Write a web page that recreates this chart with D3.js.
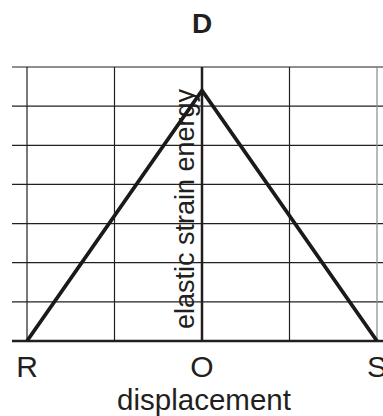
<!DOCTYPE html>
<html>
<head>
<meta charset="utf-8">
<script src="https://cdnjs.cloudflare.com/ajax/libs/d3/7.8.5/d3.min.js"></script>
<style>
  body { margin: 0; background: #fff; }
  text { font-family: "Liberation Sans", Arial, Helvetica, sans-serif; fill: #231f20; }
</style>
</head>
<body>
<div id="chart"></div>
<script>
// data
var points = ["R", "O", "S"];          // tick labels along displacement
var pointPos = [-1, 0, 1];             // displacement of each labelled point
var energy = [0, 6.4, 0];              // elastic strain energy at R, O, S
var gridX = [-1, -0.5, 0, 0.5, 1];     // vertical grid lines
var gridY = [1, 2, 3, 4, 5, 6, 7];     // horizontal grid lines
var title = "D";

var w = 383, h = 416;

var svg = d3.select("#chart").append("svg")
    .attr("width", w)
    .attr("height", h);

var x = d3.scaleLinear().domain([-1, 1]).range([27, 377]);
var y = d3.scaleLinear().domain([0, 7]).range([341, 67]);
var left = 12, right = 383;

// grid
svg.selectAll("line.hgrid")
    .data(gridY)
    .enter().append("line")
    .attr("x1", left).attr("x2", right)
    .attr("y1", function(d) { return y(d); })
    .attr("y2", function(d) { return y(d); })
    .attr("stroke", "#231f20")
    .attr("stroke-width", 1.2);

svg.selectAll("line.vgrid")
    .data(gridX)
    .enter().append("line")
    .attr("x1", function(d) { return x(d); })
    .attr("x2", function(d) { return x(d); })
    .attr("y1", y(0)).attr("y2", y(7))
    .attr("stroke", function(d) { return d == 1 ? "#8a8a8a" : "#231f20"; })
    .attr("stroke-width", 1.2);

// axes
svg.append("line")
    .attr("x1", x(0)).attr("x2", x(0))
    .attr("y1", y(0)).attr("y2", y(7))
    .attr("stroke", "#231f20")
    .attr("stroke-width", 2.5);

svg.append("line")
    .attr("x1", left).attr("x2", right)
    .attr("y1", y(0)).attr("y2", y(0))
    .attr("stroke", "#231f20")
    .attr("stroke-width", 2.5);

// y label
svg.append("text")
    .attr("transform", "translate(" + (x(0) - 8) + "," + 209 + ") rotate(-90)")
    .attr("text-anchor", "middle")
    .style("font-size", "27px")
    .text("elastic strain energy");

// energy curve
var line = d3.line()
    .x(function(d, i) { return x(pointPos[i]); })
    .y(function(d) { return y(d); });

svg.append("path")
    .datum(energy)
    .attr("d", line)
    .attr("fill", "none")
    .attr("stroke", "#1a1a1a")
    .attr("stroke-width", 3.8)
    .attr("stroke-linejoin", "miter");

// tick labels
svg.selectAll("text.tick")
    .data(points)
    .enter().append("text")
    .attr("x", function(d, i) { return x(pointPos[i]); })
    .attr("y", 376.5)
    .attr("text-anchor", "middle")
    .style("font-size", "30px")
    .text(function(d) { return d; });

// x label
svg.append("text")
    .attr("x", x(0) + 2)
    .attr("y", 410)
    .attr("text-anchor", "middle")
    .style("font-size", "29.5px")
    .text("displacement");

// title
svg.append("text")
    .attr("x", x(0))
    .attr("y", 33)
    .attr("text-anchor", "middle")
    .style("font-size", "28px")
    .style("font-weight", "bold")
    .text(title);
</script>
</body>
</html>
